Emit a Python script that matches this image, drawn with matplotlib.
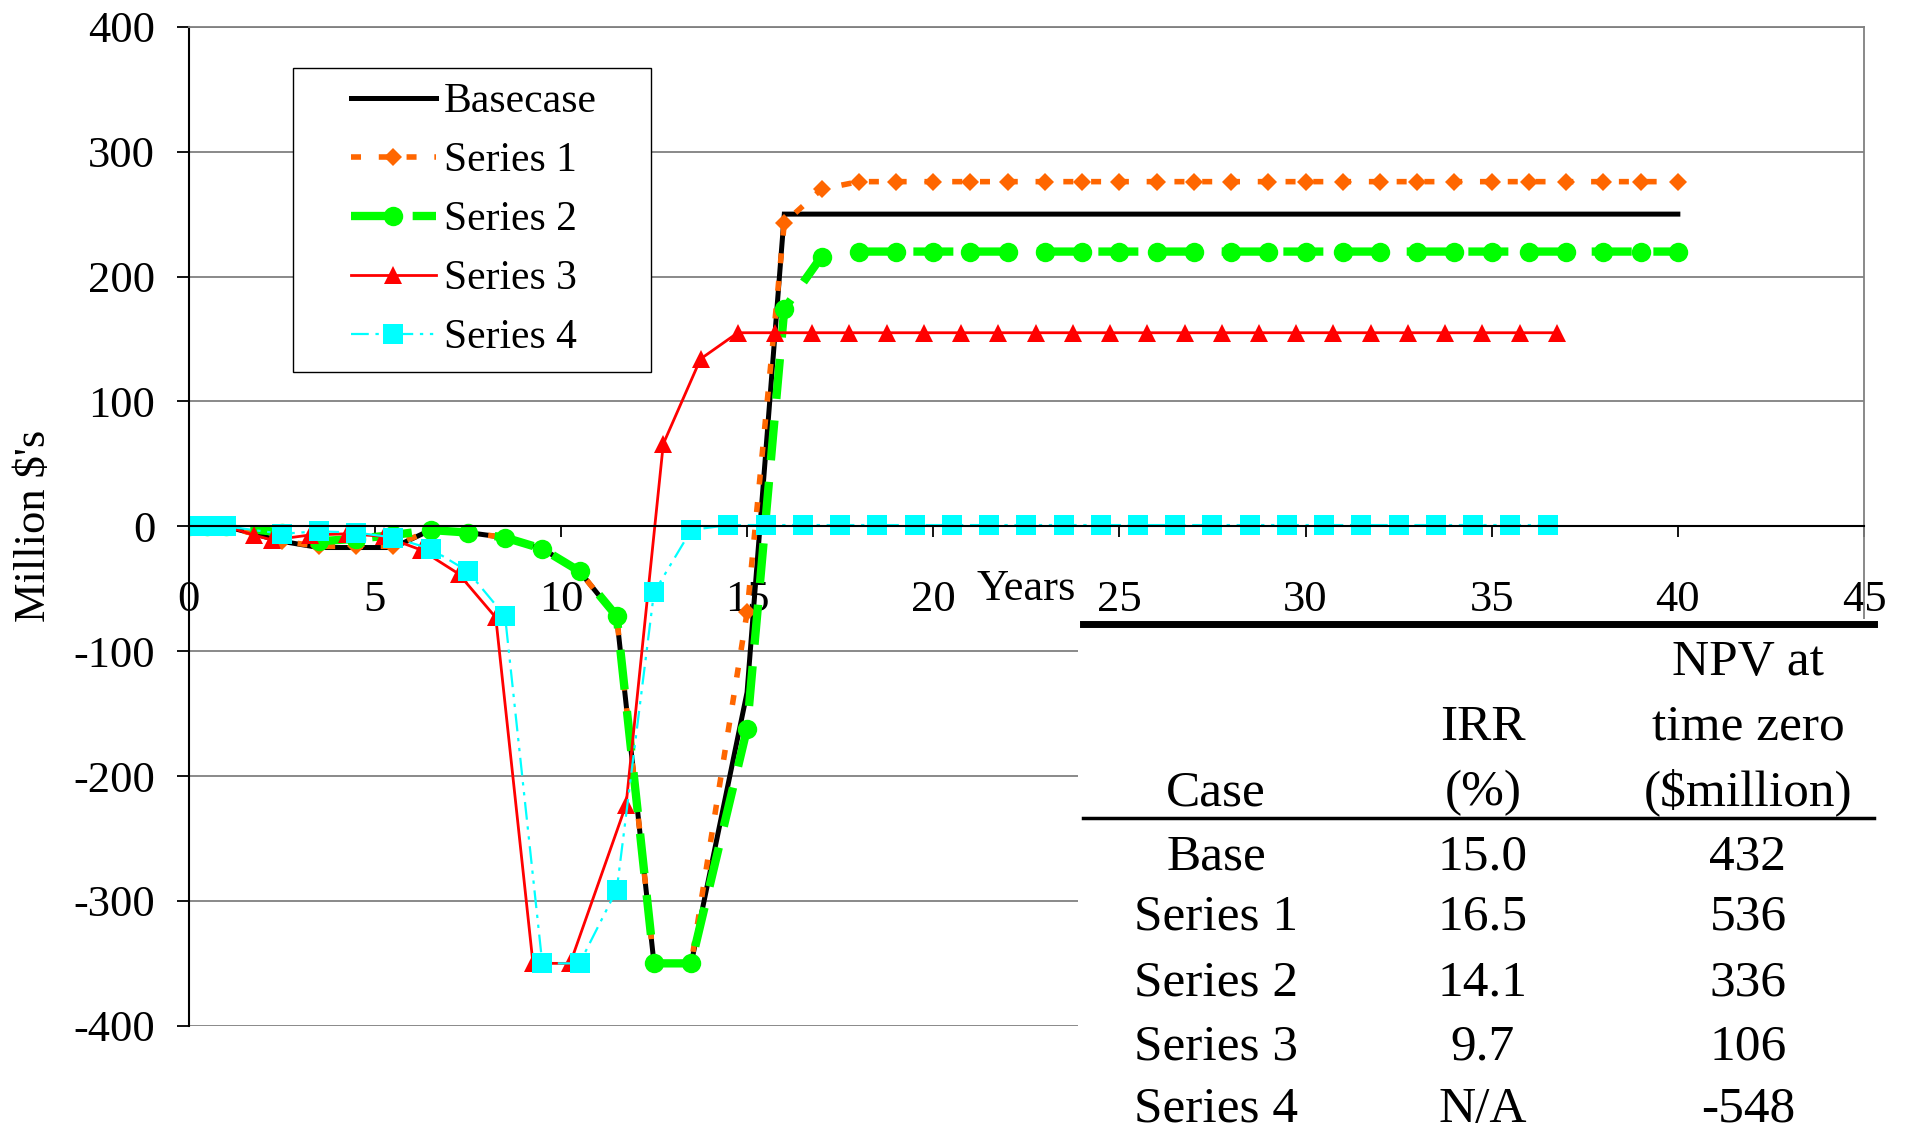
import matplotlib
matplotlib.use("Agg")
import matplotlib.pyplot as plt
from matplotlib.legend_handler import HandlerLine2D
from matplotlib.lines import Line2D
from matplotlib.patches import Rectangle

WIDTH = 1908
HEIGHT = 1138
DPI = 100

plt.rcParams["font.family"] = ["Liberation Serif", "DejaVu Serif"]
plt.rcParams["axes.unicode_minus"] = False

# years and cash position (million $)
years = [0, 0.5, 1, 2.5, 3.5, 4.5, 5.5, 6.5, 7.5, 8.5, 9.5, 10.5, 11.5, 12.5,
         13.5, 15, 16, 17, 18, 19, 20, 21, 22, 23, 24, 25, 26, 27, 28, 29,
         30, 31, 32, 33, 34, 35, 36, 37, 38, 39, 40]
basecase = [0, 0, 0, -12, -17, -17, -17, -3, -5, -9, -18, -36, -73, -350,
            -350, -133, 250, 250, 250, 250, 250, 250, 250, 250, 250, 250, 250,
            250, 250, 250, 250, 250, 250, 250, 250, 250, 250, 250, 250, 250, 250]
series1 = [0, 0, 0, -12, -16, -16, -16, -3, -5, -9, -18, -36, -73, -350,
           -350, -69, 243, 270, 276, 276, 276, 276, 276, 276, 276, 276, 276,
           276, 276, 276, 276, 276, 276, 276, 276, 276, 276, 276, 276, 276, 276]
series2 = [0, 0, 0, -5, -12, -10, -7, -3, -5, -9, -18, -36, -72, -350,
           -350, -162, 174, 216, 220, 220, 220, 220, 220, 220, 220, 220, 220,
           220, 220, 220, 220, 220, 220, 220, 220, 220, 220, 220, 220, 220, 220]

years_s3 = [0, 0.5, 1, 1.75, 2.25, 3.25, 4.25, 5.25, 6.25, 7.25, 8.25, 9.25,
            10.25, 11.75, 12.75, 13.75, 14.75, 15.75, 16.75, 17.75, 18.75,
            19.75, 20.75, 21.75, 22.75, 23.75, 24.75, 25.75, 26.75, 27.75,
            28.75, 29.75, 30.75, 31.75, 32.75, 33.75, 34.75, 35.75, 36.75]
series3 = [0, 0, 0, -7, -11, -7, -6, -8, -19, -38, -73, -350, -350, -223, 66,
           134, 155, 155, 155, 155, 155, 155, 155, 155, 155, 155, 155, 155,
           155, 155, 155, 155, 155, 155, 155, 155, 155, 155, 155]

years_s4 = [0, 0.5, 1, 2.5, 3.5, 4.5, 5.5, 6.5, 7.5, 8.5, 9.5, 10.5, 11.5,
            12.5, 13.5, 14.5, 15.5, 16.5, 17.5, 18.5, 19.5, 20.5, 21.5, 22.5,
            23.5, 24.5, 25.5, 26.5, 27.5, 28.5, 29.5, 30.5, 31.5, 32.5, 33.5,
            34.5, 35.5, 36.5]
series4 = [0, 0, 0, -6, -4, -5, -9, -18, -36, -72, -350, -350, -291, -53, -3,
           1, 1, 1, 1, 1, 1, 1, 1, 1, 1, 1, 1, 1, 1, 1, 1, 1, 1, 1, 1, 1, 1, 1]

x_ticks = [0, 5, 10, 15, 20, 25, 30, 35, 40, 45]
y_ticks = [-400, -300, -200, -100, 0, 100, 200, 300, 400]

table_header = [["", "", "NPV at"],
                ["", "IRR", "time zero"],
                ["Case", "(%)", "($million)"]]
table_case = ["Base", "Series 1", "Series 2", "Series 3", "Series 4"]
table_irr = ["15.0", "16.5", "14.1", "9.7", "N/A"]
table_npv = ["432", "536", "336", "106", "-548"]


def fx(px):
    return px / WIDTH


def fy(py):
    return 1 - py / HEIGHT


def main():
    fig = plt.figure(figsize=(WIDTH / DPI, HEIGHT / DPI), dpi=DPI)
    ax = fig.add_axes([fx(188.6), fy(1025.8), fx(1864) - fx(188.6),
                       fy(26.8) - fy(1025.8)])

    ax.plot(years, basecase, color="black", lw=3.6, label="Basecase",
            solid_joinstyle="miter")
    ax.plot(years, series1, color="#FF6600", lw=4, ls=(0, (1.8, 3.2)),
            marker="D", ms=9, mew=0, label="Series 1")
    ax.plot(years, series2, color="#00FF00", lw=6, ls=(0, (4.8, 2.6)),
            marker="o", ms=14, mew=0, label="Series 2")
    ax.plot(years_s3, series3, color="#FF0000", lw=2, marker="^", ms=13,
            mew=0, label="Series 3")
    ax.plot(years_s4, series4, color="#00FFFF", lw=1.6,
            ls=(0, (8, 3, 1.5, 3, 1.5, 3)), marker="s", ms=14, mew=0,
            label="Series 4")

    ax.set_xlim(0, 45)
    ax.set_ylim(-400, 400)
    ax.set_xticks(x_ticks)
    ax.set_yticks(y_ticks)
    ax.grid(True, axis="y", color="#808080", lw=1.3)
    ax.set_axisbelow(True)

    ax.spines["bottom"].set_position(("data", 0))
    ax.spines["bottom"].set_color("black")
    ax.spines["bottom"].set_linewidth(1.5)
    ax.spines["left"].set_color("black")
    ax.spines["left"].set_linewidth(1.5)
    ax.spines["top"].set_color("#808080")
    ax.spines["right"].set_color("#808080")
    ax.spines["top"].set_linewidth(1.3)
    ax.spines["right"].set_linewidth(1.3)

    ax.tick_params(axis="x", direction="out", length=8, width=1.3,
                   pad=30.5, labelsize=32)
    ax.tick_params(axis="y", direction="out", length=9, width=1.3,
                   pad=15, labelsize=32)

    ax.text(22.5, -50, "Years", ha="center", va="center", fontsize=32)
    fig.text(fx(34), fy(526), "Million $'s", rotation=90, ha="center",
             va="center", fontsize=32, parse_math=False)

    handler = HandlerLine2D(xpad=1.03, numpoints=1)
    leg = ax.legend(loc="upper left",
                    bbox_to_anchor=(fx(293), fy(366), fx(651) - fx(293),
                                    fy(68) - fy(366)),
                    bbox_transform=fig.transFigure, mode="expand",
                    borderaxespad=0, borderpad=0.36, labelspacing=0.49,
                    handlelength=3.06, handletextpad=0.2, fontsize=30,
                    fancybox=False, framealpha=1, edgecolor="black",
                    handler_map={Line2D: handler})
    leg.get_frame().set_linewidth(1.0)

    # table drawn over the lower right corner of the chart
    fig.add_artist(Rectangle((fx(1078), 0), 1 - fx(1078), fy(619),
                             transform=fig.transFigure, facecolor="white",
                             edgecolor="none", zorder=5))
    fig.add_artist(Line2D([fx(1083), fx(1874)], [fy(624), fy(624)],
                          transform=fig.transFigure, color="black", lw=5,
                          zorder=6))
    fig.add_artist(Line2D([fx(1083), fx(1874)], [fy(818), fy(818)],
                          transform=fig.transFigure, color="black", lw=2.5,
                          zorder=6))

    col_x = [1216, 1483, 1748]
    head_y = [675, 740, 805]
    row_y = [869, 930, 996, 1060, 1122]
    for row, yb in zip(table_header, head_y):
        for txt, xc in zip(row, col_x):
            fig.text(fx(xc), fy(yb), txt, ha="center", va="baseline",
                     fontsize=37, zorder=7, parse_math=False)
    for i, yb in enumerate(row_y):
        for txt, xc in zip([table_case[i], table_irr[i], table_npv[i]], col_x):
            fig.text(fx(xc), fy(yb), txt, ha="center", va="baseline",
                     fontsize=37, zorder=7)

    fig.savefig("out.png", dpi=DPI, facecolor="white")
    plt.close(fig)


if __name__ == "__main__":
    main()
